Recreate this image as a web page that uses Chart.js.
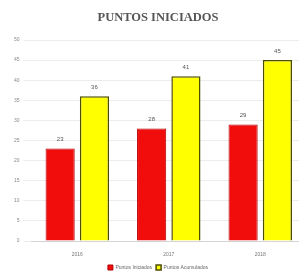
<!DOCTYPE html>
<html>
<head>
<meta charset="utf-8">
<script src="https://cdn.jsdelivr.net/npm/chart.js@4"></script>
<style>
  html, body { margin:0; padding:0; background:#fff; overflow:hidden; }
  #wrap { width:310px; height:280px; }
</style>
</head>
<body>
<div id="wrap"><canvas id="barChart" width="310" height="280"></canvas></div>
<script>
// values
const years = ['2016', '2017', '2018'];
const iniciados = [23, 28, 29];
const acumulados = [36, 41, 45];
const yTicks = [0, 5, 10, 15, 20, 25, 30, 35, 40, 45, 50];

// small numbers above each bar
const barLabels = {
  id: 'barLabels',
  afterDatasetsDraw(chart) {
    const ctx = chart.ctx;
    ctx.save();
    ctx.font = '6px "Liberation Sans"';
    ctx.fillStyle = '#555';
    ctx.textAlign = 'center';
    ctx.textBaseline = 'bottom';
    chart.data.datasets.forEach((ds, i) => {
      chart.getDatasetMeta(i).data.forEach((bar, j) => {
        ctx.fillText(ds.data[j], bar.x, bar.y - 6);
      });
    });
    ctx.restore();
  }
};

new Chart(document.getElementById('barChart'), {
  type: 'bar',
  data: {
    labels: years,
    datasets: [
      {label:'Puntos Iniciados', data:iniciados, backgroundColor:'#f20d0d', borderColor:'#b30000', borderWidth:1, barPercentage:0.85, categoryPercentage:0.75},
      {label:'Puntos Acumulados', data:acumulados, backgroundColor:'#ffff00', borderColor:'#4d4d00', borderWidth:1.5, barPercentage:0.85, categoryPercentage:0.75}
    ]
  },
  options: {
    responsive: false,
    animation: false,
    layout: { padding: { left: 10, right: 4, top: 0, bottom: 0 } },
    plugins: {
      title: {
        display: true, text: 'PUNTOS INICIADOS', color: '#555',
        font: { family: '"Liberation Serif"', size: 12.5, weight: 'bold' },
        padding: { top: 10, bottom: 15 }
      },
      legend: {
        position: 'bottom',
        labels: { boxWidth: 5, boxHeight: 5, padding: 4, color: '#666', font: { size: 5 } }
      }
    },
    scales: {
      x: {
        grid: { display: false },
        ticks: { color: '#777', font: { size: 5 } }
      },
      y: {
        min: 0, max: 50,
        afterBuildTicks: (axis) => { axis.ticks = yTicks.map(v => ({ value: v })); },
        grid: { color: '#ececec' },
        border: { display: false },
        ticks: { color: '#888', font: { size: 5 }, padding: 4 }
      }
    }
  },
  plugins: [barLabels]
});
</script>
</body>
</html>
